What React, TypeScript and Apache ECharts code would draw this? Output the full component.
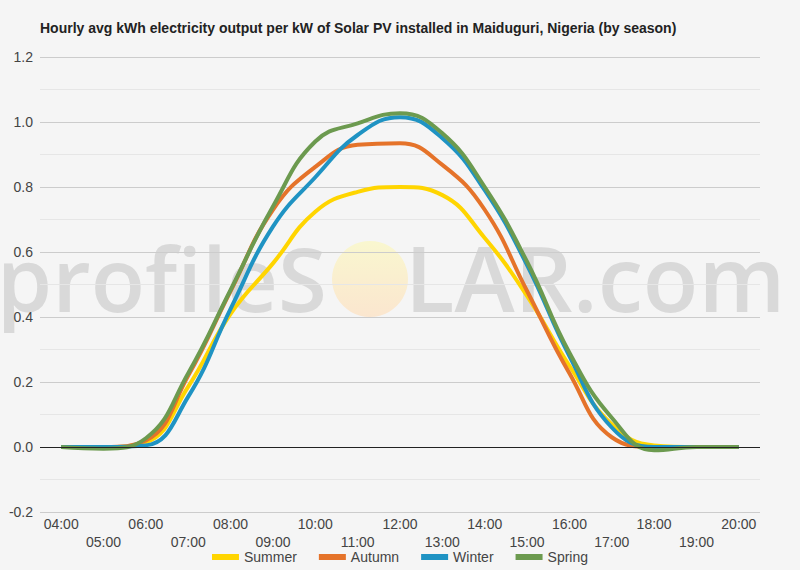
import React, { useEffect, useRef } from "react";
import * as echarts from "echarts";

const hours = ["04:00","05:00","06:00","07:00","08:00","09:00","10:00","11:00","12:00","13:00","14:00","15:00","16:00","17:00","18:00","19:00","20:00"];
const summer = [0, 0, 0.015, 0.186, 0.41, 0.565, 0.724, 0.785, 0.80, 0.775, 0.643, 0.465, 0.25, 0.07, 0.005, 0, 0];
const autumn = [0, 0, 0.02, 0.22, 0.48, 0.73, 0.862, 0.93, 0.935, 0.868, 0.73, 0.48, 0.227, 0.03, 0, 0, 0];
const winter = [0, 0, 0.005, 0.155, 0.425, 0.678, 0.83, 0.96, 1.015, 0.95, 0.79, 0.56, 0.28, 0.06, 0, 0, 0];
const spring = [0, -0.005, 0.027, 0.227, 0.483, 0.74, 0.94, 0.996, 1.027, 0.965, 0.80, 0.57, 0.29, 0.09, -0.01, 0, 0];
const seriesNames = ["Summer", "Autumn", "Winter", "Spring"];
const seriesData = [summer, autumn, winter, spring];
const colors = ["#FFD500", "#E5732A", "#1F93C3", "#6C9A4F"];
const title = "Hourly avg kWh electricity output per kW of Solar PV installed in Maiduguri, Nigeria (by season)";

const FONT = "'Liberation Sans', Arial, sans-serif";

export default function App() {
  const ref = useRef<HTMLDivElement>(null);
  useEffect(() => {
    if (!ref.current) return;
    const chart = echarts.init(ref.current, undefined, { renderer: "svg" });
    chart.setOption({
      animation: false,
      backgroundColor: "#f5f5f5",
      textStyle: { fontFamily: FONT },
      title: {
        text: title,
        left: 35,
        top: 16,
        textStyle: { fontFamily: FONT, fontSize: 14, fontWeight: "bold", color: "#222" },
      },
      graphic: [
        {
          type: "text",
          z: -10,
          silent: true,
          style: {
            text: "profileS",
            x: 327,
            y: 277,
            align: "right",
            verticalAlign: "middle",
            font: "600 89px 'Open Sans', sans-serif",
            fill: "#d9d9d9",
          },
        },
        {
          type: "circle",
          z: -10,
          silent: true,
          shape: { cx: 370, cy: 279, r: 38 },
          style: {
            fill: new echarts.graphic.LinearGradient(0, 0, 0, 1, [
              { offset: 0, color: "#f9f7cf" },
              { offset: 1, color: "#fbe6cf" },
            ]),
          },
        },
        {
          type: "text",
          z: -10,
          silent: true,
          style: {
            text: "LAR.com",
            x: 405,
            y: 277,
            align: "left",
            verticalAlign: "middle",
            font: "600 91px 'Open Sans', sans-serif",
            fill: "#d9d9d9",
          },
        },
      ],
      legend: {
        data: seriesNames,
        top: 545,
        left: "center",
        icon: "rect",
        itemWidth: 27,
        itemHeight: 6,
        itemGap: 22,
        textStyle: { fontFamily: FONT, fontSize: 14, color: "#444" },
      },
      grid: { left: 40, right: 40, top: 57, bottom: 58, containLabel: false },
      xAxis: {
        type: "category",
        data: hours,
        boundaryGap: true,
        axisLine: { show: false },
        axisTick: { show: false },
        axisLabel: {
          interval: 0,
          fontSize: 14,
          color: "#444",
          margin: 3,
          lineHeight: 18,
          formatter: (v: string, i: number) => (i % 2 ? "\n" + v : v),
        },
      },
      yAxis: {
        type: "value",
        min: -0.2,
        max: 1.2,
        interval: 0.2,
        axisLine: { show: false },
        axisTick: { show: false },
        axisLabel: {
          fontSize: 14,
          color: "#444",
          margin: 7,
          formatter: (v: number) => v.toFixed(1),
        },
        splitLine: { show: true, lineStyle: { color: "#cccccc", width: 1 } },
        minorTick: { show: false, splitNumber: 2 },
        minorSplitLine: { show: true, lineStyle: { color: "#e6e6e6", width: 1 } },
      },
      series: seriesNames.map((name, i) => ({
        name,
        type: "line",
        data: seriesData[i],
        smooth: 0.45,
        symbol: "none",
        lineStyle: { width: 4, color: colors[i] },
        itemStyle: { color: colors[i] },
        markLine:
          i === 0
            ? {
                silent: true,
                symbol: "none",
                label: { show: false },
                lineStyle: { color: "#222", width: 1, type: "solid" },
                data: [{ yAxis: 0 }],
              }
            : undefined,
      })),
    });
    return () => chart.dispose();
  }, []);
  return (
    <div
      ref={ref}
      style={{ position: "absolute", left: 0, top: 0, width: 800, height: 570 }}
    />
  );
}
